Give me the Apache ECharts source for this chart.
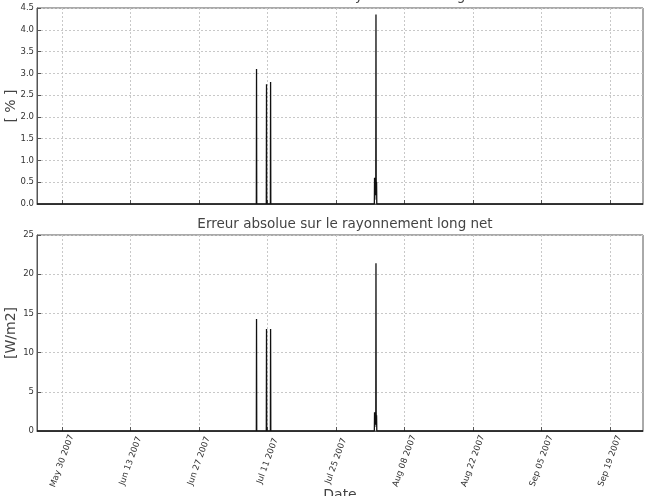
<!DOCTYPE html>
<html>
<head>
<meta charset="utf-8">
<script src="https://cdn.jsdelivr.net/npm/echarts@6/dist/echarts.min.js"></script>
<style>
  html, body { margin: 0; padding: 0; background: #fff; }
  #chart { width: 647px; height: 496px; }
</style>
</head>
<body>
<div id="chart"></div>
<script>
// dates des mesures (pics d'erreur), le reste est nul
const dates = [
  '2007-05-24 21:00',
  '2007-07-08 17:00', '2007-07-08 18:00', '2007-07-08 19:00',
  '2007-07-10 18:00', '2007-07-10 19:00', '2007-07-10 20:00',
  '2007-07-11 14:00', '2007-07-11 15:00', '2007-07-11 16:00',
  '2007-08-01 20:00', '2007-08-01 21:00', '2007-08-01 22:00', '2007-08-01 23:00',
  '2007-08-02 00:00', '2007-08-02 01:00', '2007-08-02 02:00', '2007-08-02 03:00',
  '2007-08-02 04:00', '2007-08-02 05:00', '2007-08-02 06:00', '2007-08-02 07:00',
  '2007-08-02 08:00',
  '2007-09-25 18:00'
];
// erreur relative [%]
const relErr = [0, 0, 3.1, 0, 0, 2.75, 0, 0, 2.8, 0, 0, 0.6, 0.1, 0.5, 0.2, 0.6, 0.3, 0.4, 4.35, 0.6, 0.2, 0.5, 0, 0];
// erreur absolue [W/m2]
const absErr = [0, 0, 14.3, 0, 0, 13.0, 0, 0, 13.0, 0, 0, 2.4, 0.5, 2.0, 0.8, 2.4, 1.2, 1.6, 21.4, 2.4, 0.8, 2.0, 0, 0];
// graduations de l'axe des dates
const tickDates = ['2007-05-30', '2007-06-13', '2007-06-27', '2007-07-11', '2007-07-25',
  '2007-08-08', '2007-08-22', '2007-09-05', '2007-09-19'];

const months = ['Jan', 'Feb', 'Mar', 'Apr', 'May', 'Jun', 'Jul', 'Aug', 'Sep', 'Oct', 'Nov', 'Dec'];
function toTs(s) {
  const p = s.split(/[- :]/).map(Number);
  return Date.UTC(p[0], p[1] - 1, p[2], p[3] || 0, p[4] || 0);
}
function fmtDate(v) {
  const d = new Date(v);
  const dd = String(d.getUTCDate()).padStart(2, '0');
  return months[d.getUTCMonth()] + ' ' + dd + ' ' + d.getUTCFullYear();
}
const tickTs = tickDates.map(toTs);
const xMin = toTs(dates[0]);
const xMax = toTs(dates[dates.length - 1]);

const txt = '#444';
const dotted = { show: true, lineStyle: { color: '#c8c8c8', type: [2, 2], width: 1 } };

function xAxisOf(gi, showLabels) {
  return {
    type: 'value', gridIndex: gi, min: xMin, max: xMax,
    axisLine: { show: true, lineStyle: { color: '#555' } },
    axisTick: { show: true, inside: true, length: 4, customValues: tickTs, lineStyle: { color: '#555' } },
    axisLabel: {
      show: showLabels, customValues: tickTs, rotate: 70, align: 'center', verticalAlign: 'middle',
      fontSize: 8.5, color: '#333', fontFamily: 'DejaVu Sans', formatter: fmtDate, margin: 30,
      hideOverlap: false
    },
    splitLine: dotted,
    name: showLabels ? 'Date' : '', nameLocation: 'middle', nameGap: 57, nameMoveOverlap: false,
    nameTextStyle: { fontSize: 14, color: txt, fontFamily: 'DejaVu Sans', verticalAlign: 'top' }
  };
}
function yAxisOf(gi, max, interval, name, dec) {
  return {
    type: 'value', gridIndex: gi, min: 0, max: max, interval: interval,
    axisLine: { show: true, lineStyle: { color: '#555' } },
    axisTick: { show: true, inside: true, length: 4, lineStyle: { color: '#555' } },
    axisLabel: {
      fontSize: 8.5, color: '#333', fontFamily: 'DejaVu Sans', margin: 3,
      formatter: v => v.toFixed(dec)
    },
    splitLine: dotted,
    name: name, nameLocation: 'middle', nameRotate: 90, nameGap: 19, nameMoveOverlap: false,
    nameTextStyle: { fontSize: 14, color: txt, fontFamily: 'DejaVu Sans' }
  };
}

const chart = echarts.init(document.getElementById('chart'), null, { renderer: 'canvas' });
chart.setOption({
  animation: false,
  backgroundColor: '#fff',
  title: [
    { text: 'Erreur relative sur le rayonnement long net', left: 340, textAlign: 'center', top: -16,
      textStyle: { fontSize: 13.5, fontWeight: 'normal', color: txt, fontFamily: 'DejaVu Sans' } },
    { text: 'Erreur absolue sur le rayonnement long net', left: 340, textAlign: 'center', top: 212,
      textStyle: { fontSize: 13.5, fontWeight: 'normal', color: txt, fontFamily: 'DejaVu Sans' } }
  ],
  grid: [
    { left: 37, right: 4, top: 8, height: 196, show: true, borderColor: '#555', borderWidth: 1,
      containLabel: false, outerBoundsMode: 'none' },
    { left: 37, right: 4, top: 235, height: 196, show: true, borderColor: '#555', borderWidth: 1,
      containLabel: false, outerBoundsMode: 'none' }
  ],
  xAxis: [xAxisOf(0, false), xAxisOf(1, true)],
  yAxis: [yAxisOf(0, 4.5, 0.5, '[ % ]', 1), yAxisOf(1, 25, 5, '[W/m2]', 0)],
  series: [
    { type: 'line', xAxisIndex: 0, yAxisIndex: 0, showSymbol: false,
      lineStyle: { color: '#111', width: 1.3 },
      data: dates.map((d, i) => [toTs(d), relErr[i]]) },
    { type: 'line', xAxisIndex: 1, yAxisIndex: 1, showSymbol: false,
      lineStyle: { color: '#111', width: 1.3 },
      data: dates.map((d, i) => [toTs(d), absErr[i]]) }
  ]
});
</script>
</body>
</html>
